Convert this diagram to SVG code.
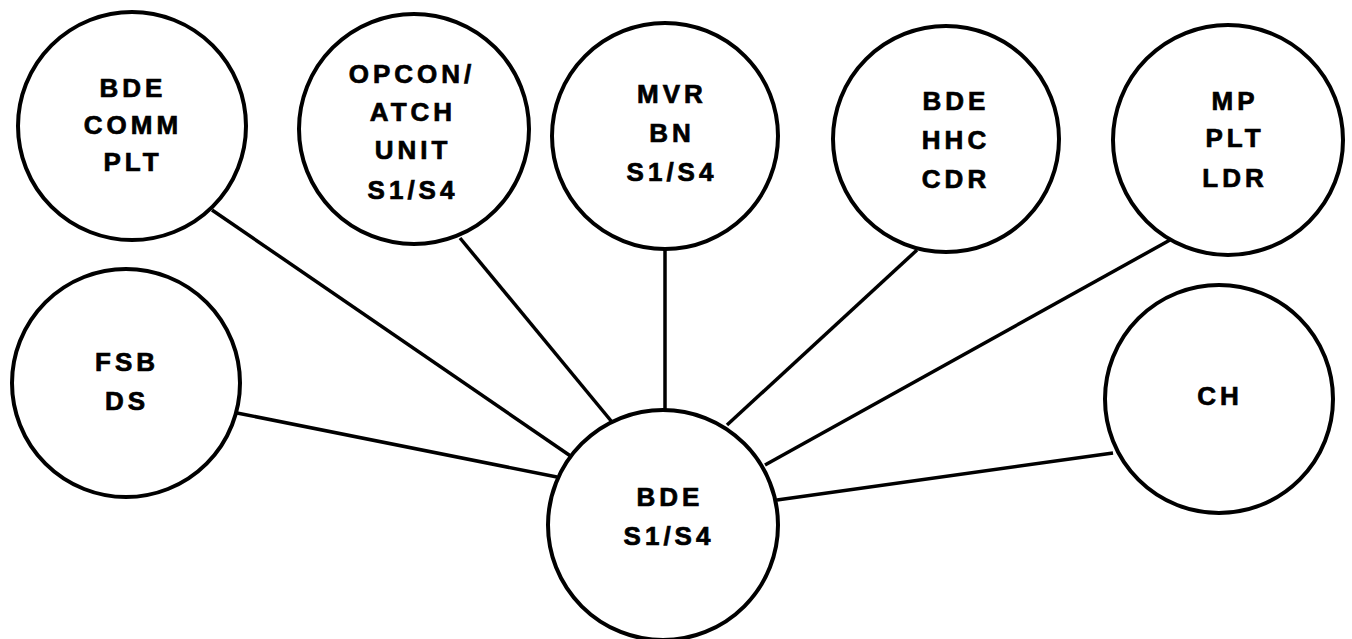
<svg xmlns="http://www.w3.org/2000/svg" width="1352" height="639" viewBox="0 0 1352 639">
<style>
.n{fill:#fff;stroke:#000;stroke-width:4}
.t{font-family:"Liberation Sans",Arial,sans-serif;font-weight:bold;font-size:26px;letter-spacing:4px;text-anchor:middle;fill:#000;stroke:#000;stroke-width:0.7}
.c{stroke:#000;stroke-width:3.5;fill:none}
</style>
<rect width="1352" height="639" fill="#fff"/>
<g id="connectors">
<line class="c" x1="212" y1="210" x2="572" y2="457"/>
<line class="c" x1="460" y1="238" x2="612" y2="422"/>
<line class="c" x1="665" y1="249" x2="665" y2="410"/>
<line class="c" x1="917" y1="250" x2="727" y2="425"/>
<line class="c" x1="1170" y1="240" x2="765" y2="465"/>
<line class="c" x1="1113" y1="453" x2="777" y2="500"/>
<line class="c" x1="237" y1="413" x2="557" y2="477"/>
</g>
<g id="bde-comm-plt">
<circle class="n" cx="132" cy="126" r="114"/>
<text class="t" x="133" y="97">BDE</text>
<text class="t" x="133" y="134">COMM</text>
<text class="t" x="133" y="171">PLT</text>
</g>
<g id="opcon-atch">
<circle class="n" cx="414" cy="129" r="115"/>
<text class="t" x="412" y="83">OPCON/</text>
<text class="t" x="413" y="121">ATCH</text>
<text class="t" x="413" y="159">UNIT</text>
<text class="t" x="413" y="199">S1/S4</text>
</g>
<g id="mvr-bn">
<circle class="n" cx="665" cy="136" r="113"/>
<text class="t" x="672" y="103">MVR</text>
<text class="t" x="672" y="142">BN</text>
<text class="t" x="672" y="181">S1/S4</text>
</g>
<g id="bde-hhc-cdr">
<circle class="n" cx="946" cy="139" r="113"/>
<text class="t" x="956" y="110">BDE</text>
<text class="t" x="956" y="149">HHC</text>
<text class="t" x="956" y="188">CDR</text>
</g>
<g id="mp-plt-ldr">
<circle class="n" cx="1228" cy="140" r="115"/>
<text class="t" x="1235" y="110">MP</text>
<text class="t" x="1235" y="147">PLT</text>
<text class="t" x="1235" y="187">LDR</text>
</g>
<g id="fsb-ds">
<circle class="n" cx="126" cy="383" r="114"/>
<text class="t" x="127" y="371">FSB</text>
<text class="t" x="127" y="410">DS</text>
</g>
<g id="ch">
<circle class="n" cx="1219" cy="399" r="114"/>
<text class="t" x="1220" y="405">CH</text>
</g>
<g id="bde-s1s4">
<circle class="n" cx="663" cy="525" r="115"/>
<text class="t" x="670" y="506">BDE</text>
<text class="t" x="669" y="545">S1/S4</text>
</g>
</svg>
